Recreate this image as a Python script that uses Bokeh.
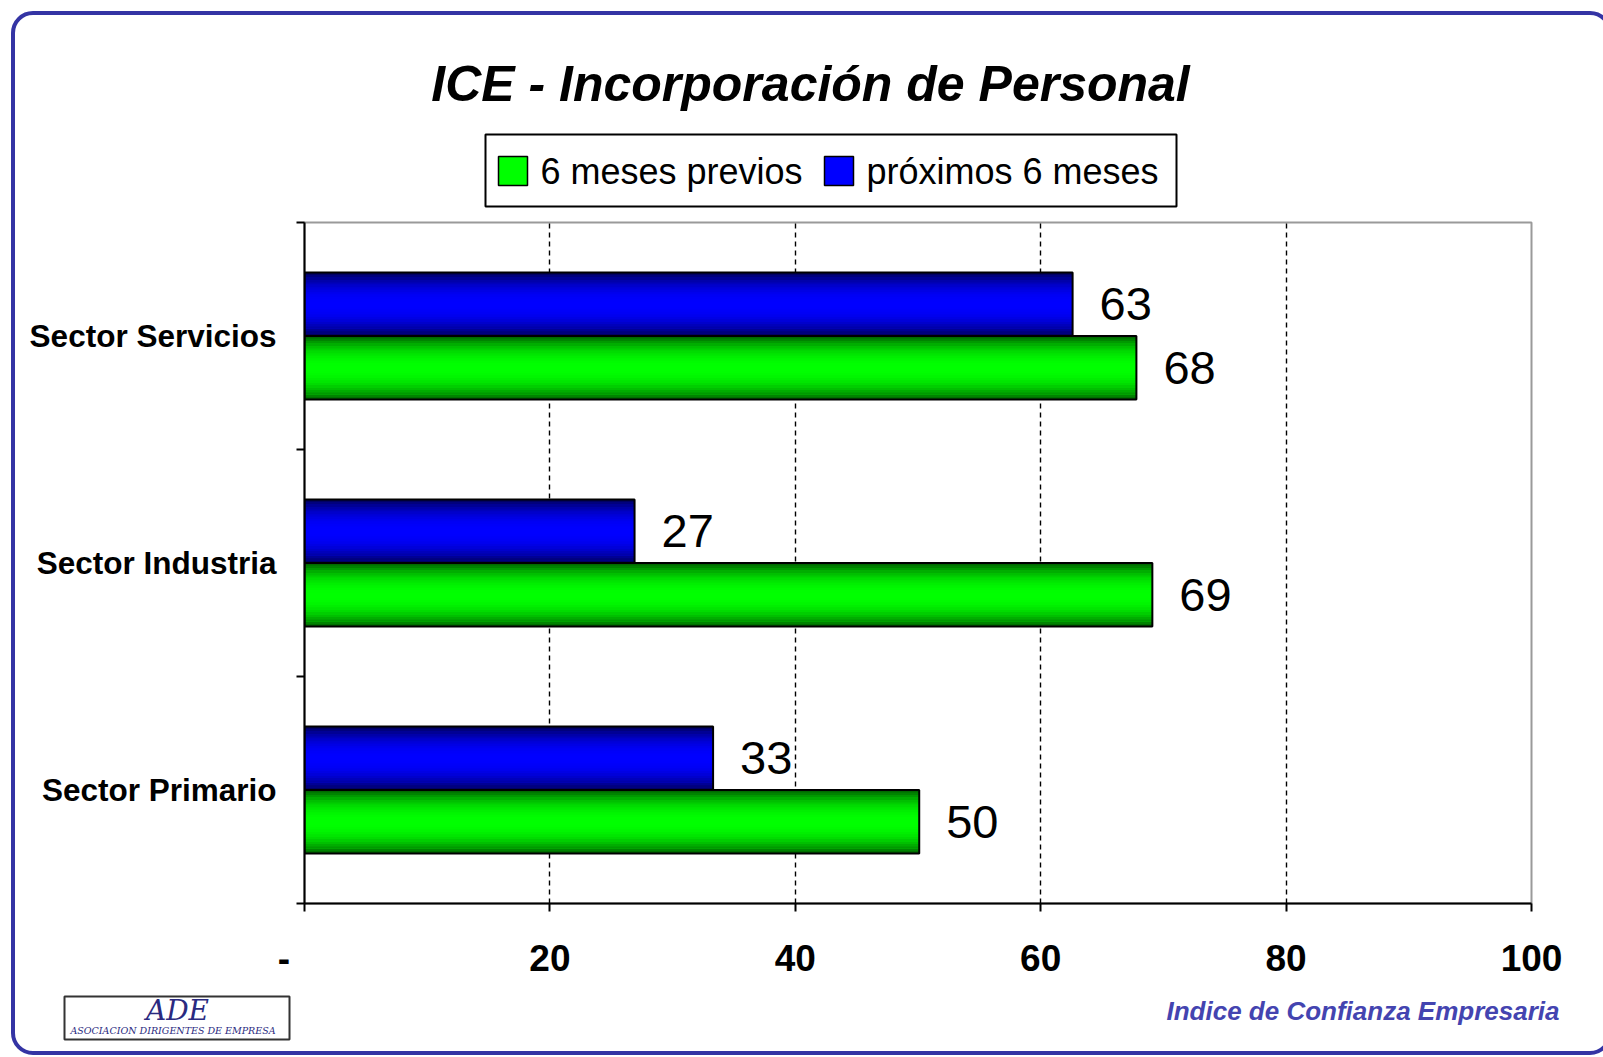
from bokeh.plotting import figure
from bokeh.models import ColumnDataSource, Range1d, FixedTicker, InlineStyleSheet
from bokeh.core.properties import value
from bokeh.embed import file_html
from bokeh.resources import INLINE

# ---------------- data ----------------
categories = ["Sector Servicios", "Sector Industria", "Sector Primario"]
previos = [67.8, 69.1, 50.1]      # 6 meses previos (green)
proximos = [62.6, 26.9, 33.3]     # próximos 6 meses (blue)
series_names = ["6 meses previos", "próximos 6 meses"]
x_ticks = [0, 20, 40, 60, 80, 100]
x_tick_labels = ["-\u00a0\u00a0\u00a0\u00a0", "20", "40", "60", "80", "100"]
grid_ticks = [20, 40, 60, 80]
title_text = "ICE - Incorporación de Personal"
footer_text = "Indice de Confianza Empresaria"
logo_text = "ADE"
logo_sub = "ASOCIACION  DIRIGENTES  DE  EMPRESA"

# ---------------- layout (pixels) ----------------
W, H = 1587, 1041
FL, FT, FR, FB = 304, 222, 1531, 903   # plot frame inside the figure
FONT = "Liberation Sans"

n = len(categories)
ypos = [n - 0.5 - i for i in range(n)]
BAR_H = 0.28
PX_X = (FR - FL) / 100.0
PX_Y = (FB - FT) / float(n)


def dx(px):   # page column -> x position (for decorations outside the plot area)
    return (px - FL) / PX_X


def dy(py):   # page row -> y position
    return (FB - py) / PX_Y


p = figure(width=W, height=H, output_backend="svg", toolbar_location=None,
           x_range=Range1d(0, 100), y_range=Range1d(0, n),
           min_border_left=FL, min_border_right=W - FR,
           min_border_top=FT, min_border_bottom=H - FB,
           background_fill_color="white", border_fill_color="white")
p.title.visible = False
p.outline_line_color = "#9a9a9a"
p.outline_line_width = 2

# outer rounded frame (decoration)
p.stylesheets = [InlineStyleSheet(css="""
:host::after {
  content: "";
  position: fixed;
  left: 11px; top: 11px;
  width: 1601px; height: 1044px;
  border: 4px solid #3434a4;
  border-radius: 22px;
  box-sizing: border-box;
  pointer-events: none;
  z-index: 10;
}
""")]

# grid
p.ygrid.visible = False
p.xgrid.ticker = FixedTicker(ticks=grid_ticks)
p.xgrid.grid_line_color = "black"
p.xgrid.grid_line_dash = "5 4"
p.xgrid.grid_line_width = 1.4

# x axis
xa = p.xaxis[0]
xa.ticker = FixedTicker(ticks=x_ticks)
xa.major_label_overrides = {t: l for t, l in zip(x_ticks, x_tick_labels)}
xa.axis_line_color = "black"
xa.axis_line_width = 2
xa.major_tick_out = 8
xa.major_tick_in = 0
xa.major_tick_line_color = "black"
xa.major_tick_line_width = 2
xa.minor_tick_line_color = None
xa.major_label_text_font = FONT
xa.major_label_text_font_style = "bold"
xa.major_label_text_font_size = "37px"
xa.major_label_text_color = "black"
xa.major_label_standoff = 26

# y axis
ya = p.yaxis[0]
ya.ticker = FixedTicker(ticks=ypos, minor_ticks=list(range(n + 1)))
ya.major_label_overrides = {y: c for y, c in zip(ypos, categories)}
ya.axis_line_color = "black"
ya.axis_line_width = 2
ya.major_tick_out = 0
ya.major_tick_in = 0
ya.minor_tick_out = 8
ya.minor_tick_in = 0
ya.minor_tick_line_color = "black"
ya.minor_tick_line_width = 2
ya.major_label_text_font = FONT
ya.major_label_text_font_style = "bold"
ya.major_label_text_font_size = "31.5px"
ya.major_label_text_color = "black"
ya.major_label_standoff = 20

NSTRIPE = 26


def stripes(vals, offset, dark, bright):
    ys, rights, colors = [], [], []
    for v, yc in zip(vals, ypos):
        for k in range(NSTRIPE):
            frac = (k + 0.5) / NSTRIPE
            t = abs(frac - 0.5) * 2
            f = 1 - t ** 2.2
            col = "#%02x%02x%02x" % tuple(int(round(d + (b - d) * f)) for d, b in zip(dark, bright))
            ys.append(yc + offset - BAR_H / 2 + frac * BAR_H)
            rights.append(v)
            colors.append(col)
    return ColumnDataSource(dict(y=ys, right=rights, color=colors))


series = [
    (previos, -BAR_H / 2, (0, 92, 0), (0, 255, 0), "#00ff00"),
    (proximos, BAR_H / 2, (0, 0, 85), (0, 0, 255), "#0000ff"),
]
for vals, off, dark, bright, flat in series:
    ys = [y + off for y in ypos]
    src = ColumnDataSource(dict(y=ys, right=vals,
                                lab=["%.0f" % v for v in vals]))
    p.hbar(y="y", right="right", left=0, height=BAR_H, source=src,
           fill_color=flat, line_color=None)
    p.hbar(y="y", right="right", left=0, height=BAR_H / NSTRIPE * 1.15,
           source=stripes(vals, off, dark, bright),
           fill_color="color", line_color=None)
    p.hbar(y="y", right="right", left=0, height=BAR_H, source=src,
           fill_color=None, line_color="black", line_width=2)
    p.text(x="right", y="y", text="lab", source=src, x_offset=27,
           text_baseline="middle", text_align="left",
           text_font=value(FONT), text_font_size="47px", text_color="black")

# ---------------- legend (drawn at overlay level above the plot area) ----------------
p.quad(left=[dx(485)], right=[dx(1176)], top=[dy(134)], bottom=[dy(206)], level="overlay",
       fill_color="white", line_color="black", line_width=2)
leg_sq_left = [498, 824]
leg_txt_left = [540, 866]
p.quad(left=[dx(v) for v in leg_sq_left], right=[dx(v + 29) for v in leg_sq_left],
       top=[dy(156)] * 2, bottom=[dy(185)] * 2, level="overlay",
       fill_color=[s[4] for s in series], line_color="black", line_width=1.5)
p.text(x=[dx(v) for v in leg_txt_left], y=[dy(171)] * 2, text=series_names, level="overlay",
       text_font=value(FONT), text_font_size="36px",
       text_align="left", text_baseline="middle", text_color="black")

# title
p.text(x=[dx(810)], y=[dy(83)], text=[title_text], level="overlay",
       text_font=value(FONT), text_font_style="bold italic", text_font_size="50px",
       text_align="center", text_baseline="alphabetic", text_color="black")

# logo
p.quad(left=[dx(64)], right=[dx(289)], top=[dy(996)], bottom=[dy(1039)], level="overlay",
       fill_color="white", line_color="#333333", line_width=2)
p.text(x=[dx(177)], y=[dy(1010)], text=[logo_text], level="overlay",
       text_font=value("DejaVu Serif"), text_font_style="italic", text_font_size="28px",
       text_align="center", text_baseline="middle", text_color="#2a2a80")
p.text(x=[dx(177)], y=[dy(1030)], text=[logo_sub], level="overlay",
       text_font=value("DejaVu Serif"), text_font_style="italic", text_font_size="9.5px",
       text_align="center", text_baseline="middle", text_color="#2a2a80")

# footer
p.text(x=[dx(1559)], y=[dy(1010)], text=[footer_text], level="overlay",
       text_font=value(FONT), text_font_style="bold italic", text_font_size="26px",
       text_align="right", text_baseline="alphabetic", text_color="#4444b0")

open("out.html", "w").write(file_html(p, INLINE))
